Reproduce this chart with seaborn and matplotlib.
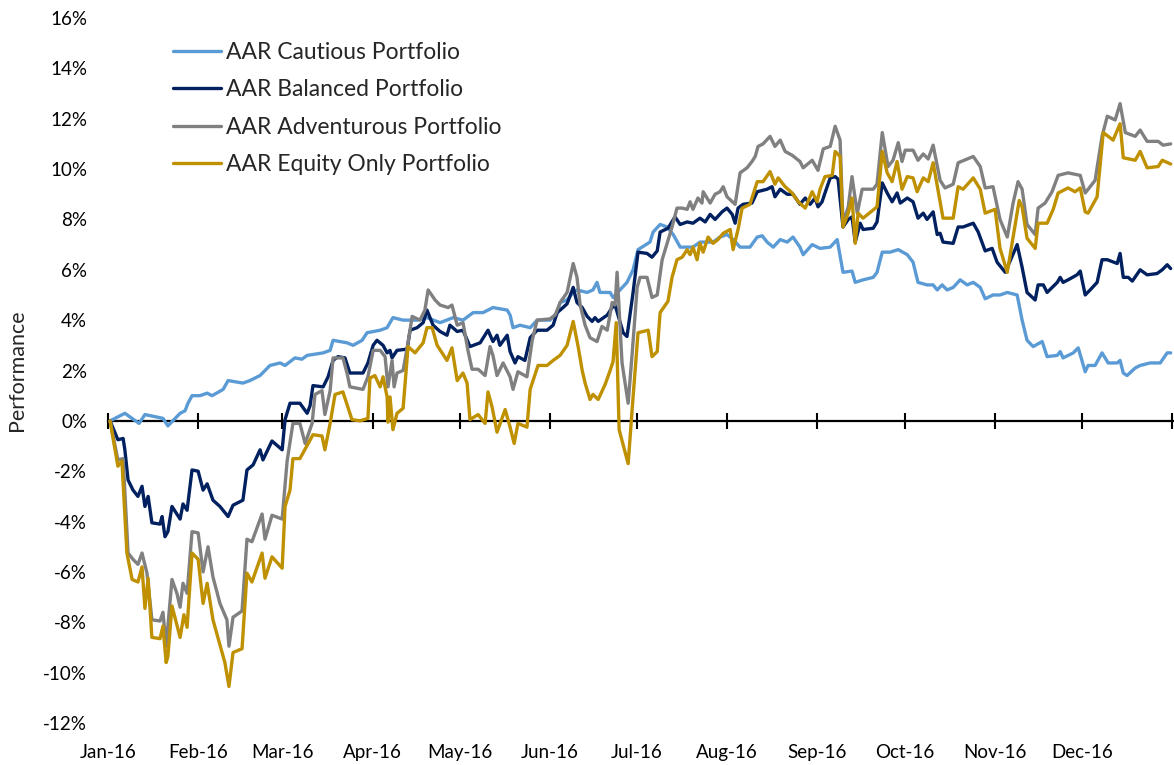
import pandas as pd
import matplotlib
matplotlib.use("Agg")
import matplotlib.pyplot as plt
import seaborn as sns

# (days since 1 Jan 2016, performance in %)
cautious = [(0.7, 0.0), (5.8, 0.3), (10.7, -0.1), (12.7, 0.25), (18.9, 0.1), (20.6, -0.2), (24.8, 0.3),
            (26.5, 0.4), (27.5, 0.7), (28.9, 1.0), (31.6, 1.0), (34.1, 1.1), (35.8, 1.0), (39.6, 1.25),
            (41.3, 1.6), (46.4, 1.5), (48.8, 1.6), (52.3, 1.8), (55.7, 2.2), (59.2, 2.3), (60.9, 2.2),
            (64.3, 2.5), (66.7, 2.45), (68.5, 2.6), (74.0, 2.7), (76.4, 2.8), (77.4, 3.2), (82.2, 3.1),
            (84.3, 3.0), (87.4, 3.2), (89.1, 3.5), (93.6, 3.6), (96.0, 3.7), (97.0, 3.9), (98.0, 4.1),
            (101.5, 4.0), (106.3, 4.0), (109.7, 4.1), (114.2, 3.9), (118.7, 4.1), (122.1, 4.0), (125.6, 4.3),
            (129.0, 4.3), (132.4, 4.5), (137.3, 4.4), (138.3, 4.2), (139.3, 3.7), (141.7, 3.8), (145.2, 3.7),
            (147.6, 4.0), (152.0, 4.0), (154.5, 4.3), (155.5, 4.7), (157.9, 4.8), (160.0, 5.1), (161.3, 5.2),
            (164.8, 5.1), (166.8, 5.2), (168.2, 5.5), (169.2, 5.1), (172.7, 5.1), (173.7, 4.9), (176.1, 5.2),
            (178.5, 5.5), (180.6, 6.0), (182.3, 6.8), (186.4, 7.1), (187.5, 7.5), (189.9, 7.8), (192.3, 7.7),
            (194.4, 7.4), (196.8, 6.9), (201.2, 6.9), (203.6, 7.1), (208.1, 7.1), (210.5, 7.3), (212.9, 7.4),
            (215.0, 7.2), (217.4, 6.9), (220.8, 6.9), (223.3, 7.3), (225.0, 7.35), (226.7, 7.1), (228.8, 6.9),
            (231.2, 7.2), (233.6, 7.1), (235.6, 7.3), (238.0, 6.9), (239.1, 6.6), (242.2, 7.0), (244.9, 6.85),
            (248.4, 6.9), (250.8, 7.2), (252.8, 5.9), (255.9, 5.95), (257.0, 5.5), (259.7, 5.6), (263.2, 5.7),
            (264.5, 5.9), (266.3, 6.7), (269.0, 6.7), (271.8, 6.8), (274.9, 6.6), (276.9, 6.3), (278.6, 5.5),
            (281.7, 5.4), (283.8, 5.4), (285.2, 5.2), (286.9, 5.4), (288.6, 5.2), (290.7, 5.3), (293.1, 5.6),
            (295.5, 5.4), (297.6, 5.5), (300.0, 5.3), (301.7, 4.85), (304.4, 5.0), (306.8, 5.0), (309.3, 5.1),
            (312.7, 5.0), (314.4, 4.0), (316.1, 3.2), (318.2, 2.95), (321.3, 3.15), (323.0, 2.55), (326.5, 2.6),
            (327.5, 2.75), (328.5, 2.5), (332.0, 2.7), (333.7, 2.9), (336.1, 1.95), (337.1, 2.2), (339.5, 2.2),
            (341.9, 2.7), (344.0, 2.3), (347.1, 2.3), (348.1, 2.4), (349.2, 1.9), (350.5, 1.8), (353.3, 2.1),
            (355.0, 2.2), (358.4, 2.3), (361.9, 2.3), (364.3, 2.7), (365.5, 2.7)]

balanced = [(0.7, 0.0), (3.4, -0.75), (5.2, -0.7), (5.8, -1.15), (6.9, -2.35), (8.6, -2.75), (10.3, -3.0),
            (11.7, -2.6), (12.7, -3.4), (13.8, -3.0), (15.1, -4.05), (17.9, -4.1), (18.6, -3.8), (19.6, -4.6),
            (20.6, -4.4), (22.0, -3.4), (24.8, -3.9), (25.8, -3.3), (27.2, -3.55), (28.9, -1.95), (31.0, -2.0),
            (32.7, -2.75), (34.1, -2.5), (36.1, -3.15), (38.5, -3.4), (41.3, -3.8), (43.0, -3.35), (46.4, -3.15),
            (47.8, -1.95), (49.9, -1.75), (52.3, -1.15), (53.3, -1.55), (56.4, -0.8), (59.9, -1.15), (60.9, 0.05),
            (62.6, 0.7), (66.0, 0.7), (68.5, 0.3), (69.5, 0.6), (70.5, 1.4), (74.0, 1.35), (75.7, 1.75),
            (77.4, 2.4), (79.1, 2.55), (81.5, 2.5), (83.2, 1.9), (87.7, 1.9), (89.4, 2.3), (91.2, 3.0),
            (92.5, 3.2), (94.6, 3.0), (96.0, 2.7), (97.0, 2.8), (97.7, 2.5), (99.4, 2.8), (102.9, 2.85),
            (103.9, 3.6), (106.3, 3.7), (108.4, 3.9), (109.7, 4.4), (111.8, 3.8), (114.2, 3.55), (116.6, 3.4),
            (117.6, 3.8), (120.1, 3.55), (122.1, 3.6), (124.5, 2.95), (128.0, 3.1), (130.7, 3.6), (132.4, 3.15),
            (133.8, 3.4), (134.8, 3.0), (137.3, 3.4), (138.3, 2.75), (140.0, 2.3), (141.0, 2.55), (143.4, 2.4),
            (145.2, 3.3), (147.6, 3.6), (151.0, 3.6), (153.1, 3.8), (154.5, 4.3), (156.5, 4.5), (157.9, 4.65),
            (160.0, 5.3), (161.3, 4.7), (163.1, 4.5), (164.8, 4.15), (166.5, 3.95), (167.5, 4.1), (168.6, 3.95),
            (171.7, 4.2), (173.4, 4.5), (174.4, 4.6), (177.2, 3.5), (178.5, 3.35), (180.6, 5.1), (182.3, 6.7),
            (185.4, 6.65), (187.1, 6.5), (188.9, 6.75), (189.9, 7.5), (192.6, 7.65), (195.0, 8.1), (196.8, 7.8),
            (199.2, 7.9), (201.2, 7.85), (203.6, 8.05), (205.4, 7.9), (207.1, 8.2), (208.8, 8.0), (211.2, 8.3),
            (212.9, 8.45), (214.7, 8.2), (215.7, 7.85), (216.7, 8.45), (218.4, 8.6), (221.5, 8.65), (223.3, 9.1),
            (226.7, 9.2), (228.4, 9.3), (229.4, 8.9), (231.2, 9.2), (233.6, 9.0), (235.6, 9.0), (238.0, 8.6),
            (239.8, 8.85), (241.5, 8.6), (243.2, 8.85), (244.2, 8.5), (245.6, 8.7), (246.6, 9.05), (248.4, 9.65),
            (250.1, 9.7), (251.1, 9.6), (252.8, 7.7), (254.6, 8.0), (255.9, 8.1), (257.0, 7.1), (258.7, 7.85),
            (259.7, 7.6), (263.2, 7.65), (264.5, 7.9), (266.3, 9.45), (268.0, 9.05), (269.7, 8.7), (271.4, 9.05),
            (272.5, 8.65), (274.9, 8.85), (276.9, 8.7), (278.6, 8.05), (280.4, 8.25), (281.7, 8.0), (283.8, 8.3),
            (285.2, 7.4), (286.2, 7.45), (287.2, 7.1), (290.7, 7.05), (292.4, 7.7), (294.1, 7.7), (297.6, 7.85),
            (299.3, 7.5), (301.7, 6.75), (304.1, 6.85), (305.8, 6.3), (308.6, 5.9), (312.7, 7.0), (314.4, 6.1),
            (316.1, 5.1), (318.9, 4.8), (319.9, 5.4), (321.7, 5.4), (323.0, 5.1), (326.5, 5.5), (327.5, 5.7),
            (328.5, 5.5), (330.2, 5.6), (333.3, 5.8), (334.4, 5.95), (336.1, 5.0), (337.8, 5.2), (340.2, 5.5),
            (341.9, 6.4), (343.7, 6.4), (347.1, 6.25), (348.1, 6.65), (349.2, 5.7), (350.9, 5.7), (352.3, 5.55),
            (355.0, 6.0), (357.4, 5.8), (360.8, 5.85), (362.6, 6.0), (364.3, 6.2), (365.5, 6.05)]

adventurous = [(0.7, 0.0), (3.4, -1.55), (5.2, -1.5), (6.9, -5.25), (8.6, -5.5), (10.3, -5.7), (11.7, -5.25),
               (13.4, -6.05), (15.1, -7.9), (17.9, -7.95), (18.9, -7.6), (20.0, -8.95), (22.0, -6.3), (23.7, -6.85),
               (24.8, -7.4), (25.8, -6.45), (27.2, -6.85), (28.9, -4.4), (31.0, -4.45), (32.7, -6.0), (34.4, -5.0),
               (36.1, -6.2), (38.5, -7.25), (40.9, -7.9), (41.6, -8.95), (43.0, -7.8), (46.1, -7.55), (47.8, -4.7),
               (49.5, -4.8), (53.0, -3.7), (54.0, -4.7), (56.4, -3.75), (59.9, -3.9), (61.6, -1.6), (63.6, -0.1),
               (66.0, -0.1), (67.8, -0.9), (70.2, -0.1), (71.2, 1.05), (73.6, 1.2), (74.6, 0.25), (76.4, 1.2),
               (77.4, 2.5), (80.8, 2.5), (82.2, 1.9), (83.2, 1.35), (87.7, 1.25), (89.4, 1.75), (91.2, 2.8),
               (93.6, 2.8), (95.3, 2.55), (96.3, 1.35), (97.7, 2.4), (98.4, 1.35), (99.4, 1.9), (101.5, 2.0),
               (103.2, 3.1), (104.6, 4.15), (107.3, 4.0), (109.0, 4.4), (110.1, 5.2), (112.5, 4.8), (114.2, 4.6),
               (117.0, 4.5), (118.3, 4.6), (120.1, 3.8), (122.1, 3.9), (123.8, 2.8), (125.2, 2.05), (127.3, 2.05),
               (129.7, 1.8), (131.4, 2.95), (132.4, 2.6), (133.8, 1.8), (135.9, 2.3), (138.3, 1.75), (139.3, 1.25),
               (141.0, 1.95), (144.1, 1.75), (145.9, 3.2), (147.6, 4.0), (152.0, 4.05), (153.8, 4.2), (155.5, 4.7),
               (157.9, 5.1), (160.0, 6.25), (161.3, 5.7), (162.4, 4.6), (164.1, 3.8), (165.8, 3.3), (168.2, 3.15),
               (169.9, 3.75), (171.7, 3.6), (173.4, 4.7), (174.4, 4.6), (175.1, 5.9), (176.8, 2.3), (178.9, 0.7),
               (180.3, 2.7), (182.0, 5.3), (183.0, 5.7), (185.4, 5.7), (187.1, 4.9), (188.9, 5.0), (190.6, 6.4),
               (194.0, 7.7), (195.7, 8.45), (197.5, 8.45), (199.2, 8.4), (200.2, 8.7), (201.2, 8.4), (202.9, 8.85),
               (204.3, 8.65), (204.7, 9.1), (207.1, 8.65), (208.8, 9.0), (210.5, 9.1), (211.6, 9.3), (212.9, 8.9),
               (215.7, 8.6), (217.4, 9.85), (219.8, 10.05), (221.5, 10.3), (222.6, 10.5), (223.6, 10.9), (225.3, 11.0),
               (227.7, 11.3), (229.4, 10.9), (231.2, 11.15), (232.9, 10.7), (235.3, 10.55), (238.0, 10.3),
               (239.1, 10.05), (242.2, 10.35), (244.2, 9.95), (246.0, 10.8), (248.4, 10.9), (250.1, 11.7),
               (251.8, 11.15), (252.8, 7.85), (254.6, 8.5), (255.9, 9.7), (257.7, 8.25), (259.4, 9.2), (263.2, 9.2),
               (264.5, 9.4), (266.3, 11.45), (268.3, 10.1), (270.0, 10.35), (271.8, 11.05), (273.1, 10.3),
               (274.2, 10.75), (276.9, 10.75), (278.6, 10.35), (280.4, 10.6), (282.1, 10.4), (283.8, 10.95),
               (286.2, 9.55), (287.9, 9.25), (290.7, 9.4), (292.4, 10.25), (297.6, 10.5), (300.0, 10.1), (301.7, 9.25),
               (304.4, 9.3), (306.8, 8.0), (309.3, 7.3), (311.3, 8.65), (313.0, 9.5), (314.4, 9.2), (316.1, 7.8),
               (318.9, 7.4), (319.9, 8.45), (322.3, 8.65), (324.7, 9.1), (326.8, 9.75), (330.2, 9.85), (334.4, 9.75),
               (336.1, 9.05), (339.5, 9.55), (341.9, 11.3), (343.7, 12.1), (346.4, 11.95), (348.1, 12.6),
               (349.9, 11.45), (353.3, 11.3), (355.0, 11.55), (357.4, 11.1), (361.2, 11.1), (362.9, 10.95),
               (365.5, 11.0)]

equity = [(0.7, 0.0), (3.4, -1.8), (4.8, -1.6), (6.5, -5.25), (8.3, -6.3), (10.3, -6.4), (11.7, -5.8),
          (12.7, -7.45), (13.8, -6.25), (15.1, -8.6), (17.9, -8.65), (18.9, -8.15), (20.0, -9.6), (20.6, -9.35),
          (22.0, -7.35), (23.7, -8.1), (24.8, -8.6), (26.1, -7.7), (27.2, -8.2), (28.9, -5.25), (31.0, -5.5),
          (32.7, -7.25), (34.1, -6.45), (36.1, -7.9), (37.8, -8.6), (40.2, -9.6), (41.6, -10.55), (43.0, -9.2),
          (46.1, -9.05), (47.8, -6.05), (49.5, -6.4), (53.0, -5.25), (54.0, -6.25), (56.4, -5.4), (59.9, -5.85),
          (60.9, -3.4), (62.6, -2.75), (63.6, -1.5), (66.0, -1.5), (70.5, -0.55), (73.6, -0.6), (74.6, -1.15),
          (76.4, -0.1), (78.1, 1.05), (80.8, 1.15), (82.2, 0.65), (83.9, 0.05), (86.7, 0.0), (89.4, 0.1),
          (90.1, 1.7), (91.8, 1.8), (93.6, 1.35), (94.6, 1.75), (96.0, 0.95), (96.3, -0.05), (97.0, 0.95),
          (98.0, -0.35), (99.4, 0.3), (101.5, 0.5), (103.2, 2.95), (105.6, 2.7), (108.4, 3.1), (109.7, 3.7),
          (111.5, 3.7), (113.2, 3.0), (116.6, 2.4), (118.3, 2.9), (120.1, 1.6), (122.1, 1.9), (123.5, 1.5),
          (124.5, 0.05), (127.3, 0.25), (129.7, -0.1), (130.7, 1.15), (132.1, 0.55), (133.8, -0.45), (135.5, 0.1),
          (136.6, 0.45), (138.3, -0.25), (139.7, -0.9), (141.0, -0.1), (144.1, -0.25), (145.2, 1.25), (147.9, 2.2),
          (151.0, 2.2), (153.1, 2.4), (155.5, 2.6), (157.9, 3.0), (160.0, 3.95), (161.7, 2.95), (163.1, 2.0),
          (164.1, 1.5), (165.8, 0.85), (166.8, 1.05), (168.6, 0.85), (171.0, 1.45), (172.7, 2.0), (173.7, 2.35),
          (174.8, 3.9), (175.8, -0.35), (178.9, -1.7), (180.6, 0.95), (182.3, 3.5), (185.8, 3.6), (187.1, 2.55),
          (188.9, 2.75), (189.9, 4.3), (192.6, 4.75), (194.0, 5.7), (195.7, 6.4), (197.5, 6.5), (199.2, 6.8),
          (200.2, 6.6), (201.2, 6.9), (202.6, 6.4), (203.6, 7.05), (204.7, 6.7), (206.4, 7.3), (208.1, 7.05),
          (209.8, 7.2), (211.6, 7.45), (214.0, 7.6), (215.0, 6.8), (216.7, 7.6), (218.1, 8.45), (220.8, 8.6),
          (221.9, 9.0), (223.3, 9.5), (225.3, 9.5), (227.7, 9.9), (229.4, 9.4), (230.5, 9.65), (232.9, 9.3),
          (235.3, 9.05), (237.4, 8.7), (239.8, 8.45), (242.2, 9.1), (243.9, 8.7), (244.9, 9.2), (246.6, 9.7),
          (249.1, 9.75), (250.1, 10.7), (251.8, 10.5), (252.8, 7.7), (254.6, 8.25), (255.9, 8.85), (257.0, 7.05),
          (258.0, 8.25), (259.7, 8.05), (264.5, 8.5), (266.3, 10.7), (268.0, 9.85), (269.7, 9.5), (271.4, 10.3),
          (273.1, 9.2), (274.9, 9.7), (276.9, 9.65), (278.3, 9.1), (280.4, 9.65), (282.1, 9.5), (283.8, 10.25),
          (286.2, 8.7), (287.2, 8.05), (290.7, 8.05), (292.4, 9.3), (294.1, 9.2), (297.6, 9.65), (300.0, 9.2),
          (301.7, 8.25), (305.1, 8.4), (306.8, 6.85), (309.3, 5.9), (311.3, 7.3), (313.4, 8.75), (314.4, 8.5),
          (316.1, 7.25), (318.9, 6.85), (319.9, 7.85), (323.0, 7.85), (325.1, 8.4), (326.8, 9.05), (330.2, 9.25),
          (332.6, 9.1), (334.4, 9.25), (336.1, 8.3), (337.1, 8.25), (340.2, 8.9), (342.3, 11.45), (345.7, 11.15),
          (348.1, 11.8), (349.2, 10.45), (353.3, 10.35), (355.0, 10.7), (357.4, 10.05), (361.2, 10.1),
          (362.6, 10.35), (365.5, 10.2)]

names = ['AAR Cautious Portfolio', 'AAR Balanced Portfolio',
         'AAR Adventurous Portfolio', 'AAR Equity Only Portfolio']
colors = ['#5B9BD5', '#002060', '#808080', '#BF9000']
series = [cautious, balanced, adventurous, equity]

sns.set_style('white')
plt.rcParams['font.family'] = ['Lato', 'DejaVu Sans']

fig = plt.figure(figsize=(11.74, 7.65), dpi=100)
ax = fig.add_axes([108 / 1174, 42 / 765, 1065 / 1174, 705 / 765])

for name, col, pts in zip(names, colors, series):
    df = pd.DataFrame(pts, columns=['day', 'pct'])
    sns.lineplot(data=df, x='day', y='pct', color=col, linewidth=2.4, label=name,
                 estimator=None, sort=False, ax=ax)

# month ticks
months = pd.date_range('2016-01-01', '2017-01-01', freq='MS')
month_days = [(m - months[0]).days for m in months]
month_labels = [m.strftime('%b-%y') for m in months[:-1]] + ['']

ax.set_xlim(0, 366.3)
ax.set_ylim(-12, 16)
ax.set_yticks(range(-12, 17, 2))
ax.set_yticklabels([f'{v}%' for v in range(-12, 17, 2)])
ax.set_xticks(month_days)
ax.set_xticklabels(month_labels)
ax.tick_params(axis='both', length=0, labelsize=13.5, colors='black')
ax.tick_params(axis='y', pad=15)
ax.tick_params(axis='x', pad=15)
for s in ax.spines.values():
    s.set_visible(False)
ax.set_xlabel('')
ax.set_ylabel('Performance', fontsize=15.5)
ax.yaxis.set_label_coords(-0.076, 0.5)

# zero line with crossing month ticks
zero = ax.secondary_xaxis(12 / 28)
zero.set_xticks(month_days)
zero.set_xticklabels([])
zero.tick_params(direction='inout', length=11, width=1.5, color='black')
zero.spines['bottom'].set_linewidth(1.6)
zero.spines['bottom'].set_color('black')

ax.legend(loc='upper left', bbox_to_anchor=(0.061, 0.966), frameon=False, fontsize=16.5,
          handlelength=2.1, handletextpad=0.2, labelspacing=0.72, borderpad=0, borderaxespad=0)

fig.savefig('out.png', dpi=100)
